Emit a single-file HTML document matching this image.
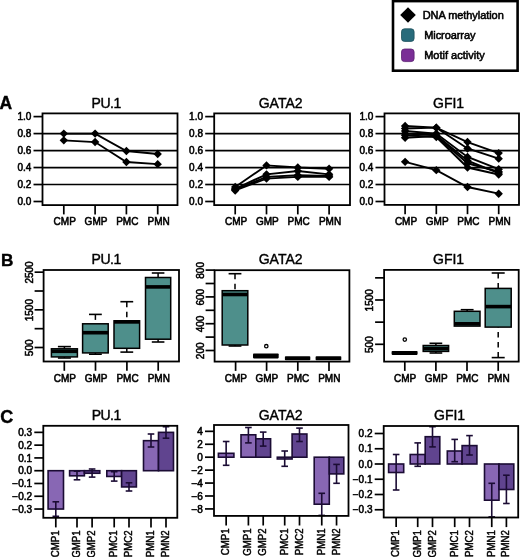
<!DOCTYPE html>
<html><head><meta charset="utf-8"><style>
html,body{margin:0;padding:0;background:#fff;}
body{width:520px;height:557px;overflow:hidden;}
svg{display:block;font-family:"Liberation Sans", sans-serif;will-change:transform;}
</style></head><body>
<svg width="520" height="557" viewBox="0 0 520 557">
<rect width="520" height="557" fill="#fff"/>
<rect x="393" y="1.1" width="124.6" height="69.6" fill="none" stroke="#000" stroke-width="2.6"/>
<path d="M408 7.2 L415.8 15 L408 22.8 L400.2 15 Z" fill="#000"/>
<rect x="401.5" y="28.8" width="12.6" height="12.6" rx="3" fill="#286b7b" stroke="#1d4f5b" stroke-width="0.8"/>
<rect x="401.5" y="49" width="12.6" height="12.6" rx="3" fill="#7a2e96" stroke="#5a1f72" stroke-width="0.8"/>
<text transform="translate(422.7 18.9)" font-size="11" text-anchor="start" font-weight="normal" stroke="#000" stroke-width="0.55" letter-spacing="-0.06">DNA methylation</text>
<text transform="translate(424.2 38.9)" font-size="11" text-anchor="start" font-weight="normal" stroke="#000" stroke-width="0.55" letter-spacing="-0.08">Microarray</text>
<text transform="translate(424.2 59.2)" font-size="11" text-anchor="start" font-weight="normal" stroke="#000" stroke-width="0.55">Motif activity</text>
<text transform="translate(-0.6 109.4)" font-size="17.5" text-anchor="start" font-weight="bold" stroke="#000" stroke-width="0.4">A</text>
<text transform="translate(1.0 265.8)" font-size="17.2" text-anchor="start" font-weight="bold" stroke="#000" stroke-width="0.4">B</text>
<text transform="translate(0.3 422.8)" font-size="18" text-anchor="start" font-weight="bold" stroke="#000" stroke-width="0.4">C</text>
<text transform="translate(106.1 107.9)" font-size="14" text-anchor="middle" font-weight="normal" stroke="#000" stroke-width="0.4" letter-spacing="-0.5">PU.1</text>
<line x1="42.5" y1="184.52" x2="177.5" y2="184.52" stroke="#000" stroke-width="1.7"/>
<line x1="42.5" y1="167.54" x2="177.5" y2="167.54" stroke="#000" stroke-width="1.7"/>
<line x1="42.5" y1="150.56" x2="177.5" y2="150.56" stroke="#000" stroke-width="1.7"/>
<line x1="42.5" y1="133.57999999999998" x2="177.5" y2="133.57999999999998" stroke="#000" stroke-width="1.7"/>
<rect x="42.5" y="113.4" width="135.0" height="91.69999999999999" fill="none" stroke="#000" stroke-width="1.8"/>
<line x1="33.5" y1="201.5" x2="42.5" y2="201.5" stroke="#000" stroke-width="1.7"/>
<text transform="translate(31.3 205.1)" font-size="10" text-anchor="end" font-weight="normal" stroke="#000" stroke-width="0.55">0.0</text>
<line x1="33.5" y1="184.52" x2="42.5" y2="184.52" stroke="#000" stroke-width="1.7"/>
<text transform="translate(31.3 188.12)" font-size="10" text-anchor="end" font-weight="normal" stroke="#000" stroke-width="0.55">0.2</text>
<line x1="33.5" y1="167.54" x2="42.5" y2="167.54" stroke="#000" stroke-width="1.7"/>
<text transform="translate(31.3 171.14)" font-size="10" text-anchor="end" font-weight="normal" stroke="#000" stroke-width="0.55">0.4</text>
<line x1="33.5" y1="150.56" x2="42.5" y2="150.56" stroke="#000" stroke-width="1.7"/>
<text transform="translate(31.3 154.16)" font-size="10" text-anchor="end" font-weight="normal" stroke="#000" stroke-width="0.55">0.6</text>
<line x1="33.5" y1="133.57999999999998" x2="42.5" y2="133.57999999999998" stroke="#000" stroke-width="1.7"/>
<text transform="translate(31.3 137.17999999999998)" font-size="10" text-anchor="end" font-weight="normal" stroke="#000" stroke-width="0.55">0.8</text>
<line x1="33.5" y1="116.6" x2="42.5" y2="116.6" stroke="#000" stroke-width="1.7"/>
<text transform="translate(31.3 120.19999999999999)" font-size="10" text-anchor="end" font-weight="normal" stroke="#000" stroke-width="0.55">1.0</text>
<line x1="63.8" y1="205.1" x2="63.8" y2="214.4" stroke="#000" stroke-width="1.7"/>
<text transform="translate(64.7 224.7)" font-size="10" text-anchor="middle" font-weight="normal" stroke="#000" stroke-width="0.55">CMP</text>
<line x1="95.1" y1="205.1" x2="95.1" y2="214.4" stroke="#000" stroke-width="1.7"/>
<text transform="translate(96.0 224.7)" font-size="10" text-anchor="middle" font-weight="normal" stroke="#000" stroke-width="0.55">GMP</text>
<line x1="126.4" y1="205.1" x2="126.4" y2="214.4" stroke="#000" stroke-width="1.7"/>
<text transform="translate(127.30000000000001 224.7)" font-size="10" text-anchor="middle" font-weight="normal" stroke="#000" stroke-width="0.55">PMC</text>
<line x1="157.7" y1="205.1" x2="157.7" y2="214.4" stroke="#000" stroke-width="1.7"/>
<text transform="translate(158.6 224.7)" font-size="10" text-anchor="middle" font-weight="normal" stroke="#000" stroke-width="0.55">PMN</text>
<polyline points="63.8,133.58 95.1,133.58 126.4,150.98 157.7,153.96" fill="none" stroke="#000" stroke-width="1.9"/>
<path d="M63.8 129.38 L68.0 133.58 L63.8 137.78 L59.599999999999994 133.58 Z" fill="#000"/>
<path d="M95.1 129.38 L99.3 133.58 L95.1 137.78 L90.89999999999999 133.58 Z" fill="#000"/>
<path d="M126.4 146.78 L130.6 150.98 L126.4 155.18 L122.2 150.98 Z" fill="#000"/>
<path d="M157.7 149.76 L161.89999999999998 153.96 L157.7 158.16 L153.5 153.96 Z" fill="#000"/>
<polyline points="63.8,140.37 95.1,142.07 126.4,162.02 157.7,164.14" fill="none" stroke="#000" stroke-width="1.9"/>
<path d="M63.8 136.17 L68.0 140.37 L63.8 144.57 L59.599999999999994 140.37 Z" fill="#000"/>
<path d="M95.1 137.87 L99.3 142.07 L95.1 146.27 L90.89999999999999 142.07 Z" fill="#000"/>
<path d="M126.4 157.82 L130.6 162.02 L126.4 166.22 L122.2 162.02 Z" fill="#000"/>
<path d="M157.7 159.94 L161.89999999999998 164.14 L157.7 168.34 L153.5 164.14 Z" fill="#000"/>
<text transform="translate(280.6 107.9)" font-size="14" text-anchor="middle" font-weight="normal" stroke="#000" stroke-width="0.4">GATA2</text>
<line x1="214.2" y1="184.52" x2="350" y2="184.52" stroke="#000" stroke-width="1.7"/>
<line x1="214.2" y1="167.54" x2="350" y2="167.54" stroke="#000" stroke-width="1.7"/>
<line x1="214.2" y1="150.56" x2="350" y2="150.56" stroke="#000" stroke-width="1.7"/>
<line x1="214.2" y1="133.57999999999998" x2="350" y2="133.57999999999998" stroke="#000" stroke-width="1.7"/>
<rect x="214.2" y="113.4" width="135.8" height="91.69999999999999" fill="none" stroke="#000" stroke-width="1.8"/>
<line x1="205.2" y1="201.5" x2="214.2" y2="201.5" stroke="#000" stroke-width="1.7"/>
<text transform="translate(203.0 205.1)" font-size="10" text-anchor="end" font-weight="normal" stroke="#000" stroke-width="0.55">0.0</text>
<line x1="205.2" y1="184.52" x2="214.2" y2="184.52" stroke="#000" stroke-width="1.7"/>
<text transform="translate(203.0 188.12)" font-size="10" text-anchor="end" font-weight="normal" stroke="#000" stroke-width="0.55">0.2</text>
<line x1="205.2" y1="167.54" x2="214.2" y2="167.54" stroke="#000" stroke-width="1.7"/>
<text transform="translate(203.0 171.14)" font-size="10" text-anchor="end" font-weight="normal" stroke="#000" stroke-width="0.55">0.4</text>
<line x1="205.2" y1="150.56" x2="214.2" y2="150.56" stroke="#000" stroke-width="1.7"/>
<text transform="translate(203.0 154.16)" font-size="10" text-anchor="end" font-weight="normal" stroke="#000" stroke-width="0.55">0.6</text>
<line x1="205.2" y1="133.57999999999998" x2="214.2" y2="133.57999999999998" stroke="#000" stroke-width="1.7"/>
<text transform="translate(203.0 137.17999999999998)" font-size="10" text-anchor="end" font-weight="normal" stroke="#000" stroke-width="0.55">0.8</text>
<line x1="205.2" y1="116.6" x2="214.2" y2="116.6" stroke="#000" stroke-width="1.7"/>
<text transform="translate(203.0 120.19999999999999)" font-size="10" text-anchor="end" font-weight="normal" stroke="#000" stroke-width="0.55">1.0</text>
<line x1="235.2" y1="205.1" x2="235.2" y2="214.4" stroke="#000" stroke-width="1.7"/>
<text transform="translate(236.1 224.7)" font-size="10" text-anchor="middle" font-weight="normal" stroke="#000" stroke-width="0.55">CMP</text>
<line x1="266.5" y1="205.1" x2="266.5" y2="214.4" stroke="#000" stroke-width="1.7"/>
<text transform="translate(267.4 224.7)" font-size="10" text-anchor="middle" font-weight="normal" stroke="#000" stroke-width="0.55">GMP</text>
<line x1="297.8" y1="205.1" x2="297.8" y2="214.4" stroke="#000" stroke-width="1.7"/>
<text transform="translate(298.7 224.7)" font-size="10" text-anchor="middle" font-weight="normal" stroke="#000" stroke-width="0.55">PMC</text>
<line x1="329.1" y1="205.1" x2="329.1" y2="214.4" stroke="#000" stroke-width="1.7"/>
<text transform="translate(330.0 224.7)" font-size="10" text-anchor="middle" font-weight="normal" stroke="#000" stroke-width="0.55">PMN</text>
<polyline points="235.2,187.07 266.5,165.42 297.8,167.54 329.1,168.81" fill="none" stroke="#000" stroke-width="1.9"/>
<path d="M235.2 182.87 L239.39999999999998 187.07 L235.2 191.27 L231.0 187.07 Z" fill="#000"/>
<path d="M266.5 161.22 L270.7 165.42 L266.5 169.62 L262.3 165.42 Z" fill="#000"/>
<path d="M297.8 163.34 L302.0 167.54 L297.8 171.74 L293.6 167.54 Z" fill="#000"/>
<path d="M329.1 164.61 L333.3 168.81 L329.1 173.01 L324.90000000000003 168.81 Z" fill="#000"/>
<polyline points="235.2,188.76 266.5,174.33 297.8,170.94 329.1,174.33" fill="none" stroke="#000" stroke-width="1.9"/>
<path d="M235.2 184.56 L239.39999999999998 188.76 L235.2 192.96 L231.0 188.76 Z" fill="#000"/>
<path d="M266.5 170.13 L270.7 174.33 L266.5 178.53 L262.3 174.33 Z" fill="#000"/>
<path d="M297.8 166.74 L302.0 170.94 L297.8 175.14 L293.6 170.94 Z" fill="#000"/>
<path d="M329.1 170.13 L333.3 174.33 L329.1 178.53 L324.90000000000003 174.33 Z" fill="#000"/>
<polyline points="235.2,189.61 266.5,176.88 297.8,175.18 329.1,176.03" fill="none" stroke="#000" stroke-width="1.9"/>
<path d="M235.2 185.41 L239.39999999999998 189.61 L235.2 193.81 L231.0 189.61 Z" fill="#000"/>
<path d="M266.5 172.68 L270.7 176.88 L266.5 181.08 L262.3 176.88 Z" fill="#000"/>
<path d="M297.8 170.98 L302.0 175.18 L297.8 179.38 L293.6 175.18 Z" fill="#000"/>
<path d="M329.1 171.83 L333.3 176.03 L329.1 180.23 L324.90000000000003 176.03 Z" fill="#000"/>
<polyline points="235.2,190.46 266.5,178.58 297.8,176.88 329.1,176.88" fill="none" stroke="#000" stroke-width="1.9"/>
<path d="M235.2 186.26 L239.39999999999998 190.46 L235.2 194.66 L231.0 190.46 Z" fill="#000"/>
<path d="M266.5 174.38 L270.7 178.58 L266.5 182.78 L262.3 178.58 Z" fill="#000"/>
<path d="M297.8 172.68 L302.0 176.88 L297.8 181.08 L293.6 176.88 Z" fill="#000"/>
<path d="M329.1 172.68 L333.3 176.88 L329.1 181.08 L324.90000000000003 176.88 Z" fill="#000"/>
<text transform="translate(448.6 107.9)" font-size="14" text-anchor="middle" font-weight="normal" stroke="#000" stroke-width="0.4">GFI1</text>
<line x1="384.5" y1="184.52" x2="519" y2="184.52" stroke="#000" stroke-width="1.7"/>
<line x1="384.5" y1="167.54" x2="519" y2="167.54" stroke="#000" stroke-width="1.7"/>
<line x1="384.5" y1="150.56" x2="519" y2="150.56" stroke="#000" stroke-width="1.7"/>
<line x1="384.5" y1="133.57999999999998" x2="519" y2="133.57999999999998" stroke="#000" stroke-width="1.7"/>
<rect x="384.5" y="113.4" width="134.5" height="91.5" fill="none" stroke="#000" stroke-width="1.8"/>
<line x1="375.5" y1="201.5" x2="384.5" y2="201.5" stroke="#000" stroke-width="1.7"/>
<text transform="translate(373.3 205.1)" font-size="10" text-anchor="end" font-weight="normal" stroke="#000" stroke-width="0.55">0.0</text>
<line x1="375.5" y1="184.52" x2="384.5" y2="184.52" stroke="#000" stroke-width="1.7"/>
<text transform="translate(373.3 188.12)" font-size="10" text-anchor="end" font-weight="normal" stroke="#000" stroke-width="0.55">0.2</text>
<line x1="375.5" y1="167.54" x2="384.5" y2="167.54" stroke="#000" stroke-width="1.7"/>
<text transform="translate(373.3 171.14)" font-size="10" text-anchor="end" font-weight="normal" stroke="#000" stroke-width="0.55">0.4</text>
<line x1="375.5" y1="150.56" x2="384.5" y2="150.56" stroke="#000" stroke-width="1.7"/>
<text transform="translate(373.3 154.16)" font-size="10" text-anchor="end" font-weight="normal" stroke="#000" stroke-width="0.55">0.6</text>
<line x1="375.5" y1="133.57999999999998" x2="384.5" y2="133.57999999999998" stroke="#000" stroke-width="1.7"/>
<text transform="translate(373.3 137.17999999999998)" font-size="10" text-anchor="end" font-weight="normal" stroke="#000" stroke-width="0.55">0.8</text>
<line x1="375.5" y1="116.6" x2="384.5" y2="116.6" stroke="#000" stroke-width="1.7"/>
<text transform="translate(373.3 120.19999999999999)" font-size="10" text-anchor="end" font-weight="normal" stroke="#000" stroke-width="0.55">1.0</text>
<line x1="405.1" y1="204.9" x2="405.1" y2="214.20000000000002" stroke="#000" stroke-width="1.7"/>
<text transform="translate(406.0 224.5)" font-size="10" text-anchor="middle" font-weight="normal" stroke="#000" stroke-width="0.55">CMP</text>
<line x1="436.3" y1="204.9" x2="436.3" y2="214.20000000000002" stroke="#000" stroke-width="1.7"/>
<text transform="translate(437.2 224.5)" font-size="10" text-anchor="middle" font-weight="normal" stroke="#000" stroke-width="0.55">GMP</text>
<line x1="467.5" y1="204.9" x2="467.5" y2="214.20000000000002" stroke="#000" stroke-width="1.7"/>
<text transform="translate(468.4 224.5)" font-size="10" text-anchor="middle" font-weight="normal" stroke="#000" stroke-width="0.55">PMC</text>
<line x1="498.7" y1="204.9" x2="498.7" y2="214.20000000000002" stroke="#000" stroke-width="1.7"/>
<text transform="translate(499.59999999999997 224.5)" font-size="10" text-anchor="middle" font-weight="normal" stroke="#000" stroke-width="0.55">PMN</text>
<polyline points="405.1,125.94 436.3,127.64 467.5,142.07 498.7,153.11" fill="none" stroke="#000" stroke-width="1.9"/>
<path d="M405.1 121.74 L409.3 125.94 L405.1 130.14 L400.90000000000003 125.94 Z" fill="#000"/>
<path d="M436.3 123.44 L440.5 127.64 L436.3 131.84 L432.1 127.64 Z" fill="#000"/>
<path d="M467.5 137.87 L471.7 142.07 L467.5 146.27 L463.3 142.07 Z" fill="#000"/>
<path d="M498.7 148.91 L502.9 153.11 L498.7 157.31 L494.5 153.11 Z" fill="#000"/>
<polyline points="405.1,128.49 436.3,127.64 467.5,148.44 498.7,158.63" fill="none" stroke="#000" stroke-width="1.9"/>
<path d="M405.1 124.29 L409.3 128.49 L405.1 132.69 L400.90000000000003 128.49 Z" fill="#000"/>
<path d="M436.3 123.44 L440.5 127.64 L436.3 131.84 L432.1 127.64 Z" fill="#000"/>
<path d="M467.5 144.24 L471.7 148.44 L467.5 152.64 L463.3 148.44 Z" fill="#000"/>
<path d="M498.7 154.43 L502.9 158.63 L498.7 162.83 L494.5 158.63 Z" fill="#000"/>
<polyline points="405.1,131.03 436.3,133.58 467.5,156.93 498.7,169.24" fill="none" stroke="#000" stroke-width="1.9"/>
<path d="M405.1 126.83 L409.3 131.03 L405.1 135.23 L400.90000000000003 131.03 Z" fill="#000"/>
<path d="M436.3 129.38 L440.5 133.58 L436.3 137.78 L432.1 133.58 Z" fill="#000"/>
<path d="M467.5 152.73 L471.7 156.93 L467.5 161.13 L463.3 156.93 Z" fill="#000"/>
<path d="M498.7 165.04 L502.9 169.24 L498.7 173.44 L494.5 169.24 Z" fill="#000"/>
<polyline points="405.1,133.58 436.3,135.28 467.5,160.75 498.7,173.06" fill="none" stroke="#000" stroke-width="1.9"/>
<path d="M405.1 129.38 L409.3 133.58 L405.1 137.78 L400.90000000000003 133.58 Z" fill="#000"/>
<path d="M436.3 131.08 L440.5 135.28 L436.3 139.48 L432.1 135.28 Z" fill="#000"/>
<path d="M467.5 156.55 L471.7 160.75 L467.5 164.95 L463.3 160.75 Z" fill="#000"/>
<path d="M498.7 168.86 L502.9 173.06 L498.7 177.26 L494.5 173.06 Z" fill="#000"/>
<polyline points="405.1,135.28 436.3,136.98 467.5,167.54 498.7,174.50" fill="none" stroke="#000" stroke-width="1.9"/>
<path d="M405.1 131.08 L409.3 135.28 L405.1 139.48 L400.90000000000003 135.28 Z" fill="#000"/>
<path d="M436.3 132.78 L440.5 136.98 L436.3 141.18 L432.1 136.98 Z" fill="#000"/>
<path d="M467.5 163.34 L471.7 167.54 L467.5 171.74 L463.3 167.54 Z" fill="#000"/>
<path d="M498.7 170.30 L502.9 174.50 L498.7 178.70 L494.5 174.50 Z" fill="#000"/>
<polyline points="405.1,137.82 436.3,136.13 467.5,163.29 498.7,171.78" fill="none" stroke="#000" stroke-width="1.9"/>
<path d="M405.1 133.62 L409.3 137.82 L405.1 142.02 L400.90000000000003 137.82 Z" fill="#000"/>
<path d="M436.3 131.93 L440.5 136.13 L436.3 140.33 L432.1 136.13 Z" fill="#000"/>
<path d="M467.5 159.09 L471.7 163.29 L467.5 167.49 L463.3 163.29 Z" fill="#000"/>
<path d="M498.7 167.59 L502.9 171.78 L498.7 175.98 L494.5 171.78 Z" fill="#000"/>
<polyline points="405.1,161.85 436.3,170.17 467.5,186.98 498.7,193.69" fill="none" stroke="#000" stroke-width="1.9"/>
<path d="M405.1 157.65 L409.3 161.85 L405.1 166.05 L400.90000000000003 161.85 Z" fill="#000"/>
<path d="M436.3 165.97 L440.5 170.17 L436.3 174.37 L432.1 170.17 Z" fill="#000"/>
<path d="M467.5 182.78 L471.7 186.98 L467.5 191.18 L463.3 186.98 Z" fill="#000"/>
<path d="M498.7 189.49 L502.9 193.69 L498.7 197.89 L494.5 193.69 Z" fill="#000"/>
<text transform="translate(106.1 264.0)" font-size="14" text-anchor="middle" font-weight="normal" stroke="#000" stroke-width="0.4" letter-spacing="-0.5">PU.1</text>
<rect x="43.6" y="270.0" width="135.4" height="91.5" fill="none" stroke="#000" stroke-width="1.8"/>
<line x1="34.6" y1="347.5" x2="43.6" y2="347.5" stroke="#000" stroke-width="1.7"/>
<text transform="translate(32.699999999999996 347.8) rotate(-90)" font-size="10" text-anchor="middle" font-weight="normal" stroke="#000" stroke-width="0.55">500</text>
<line x1="34.6" y1="328.67" x2="43.6" y2="328.67" stroke="#000" stroke-width="1.7"/>
<line x1="34.6" y1="309.84000000000003" x2="43.6" y2="309.84000000000003" stroke="#000" stroke-width="1.7"/>
<text transform="translate(32.699999999999996 310.14000000000004) rotate(-90)" font-size="10" text-anchor="middle" font-weight="normal" stroke="#000" stroke-width="0.55">1500</text>
<line x1="34.6" y1="291.01" x2="43.6" y2="291.01" stroke="#000" stroke-width="1.7"/>
<line x1="34.6" y1="272.18" x2="43.6" y2="272.18" stroke="#000" stroke-width="1.7"/>
<text transform="translate(32.699999999999996 272.48) rotate(-90)" font-size="10" text-anchor="middle" font-weight="normal" stroke="#000" stroke-width="0.55">2500</text>
<line x1="64.3" y1="361.5" x2="64.3" y2="370.8" stroke="#000" stroke-width="1.7"/>
<text transform="translate(64.89999999999999 381.7)" font-size="10" text-anchor="middle" font-weight="normal" stroke="#000" stroke-width="0.55">CMP</text>
<line x1="95.5" y1="361.5" x2="95.5" y2="370.8" stroke="#000" stroke-width="1.7"/>
<text transform="translate(96.1 381.7)" font-size="10" text-anchor="middle" font-weight="normal" stroke="#000" stroke-width="0.55">GMP</text>
<line x1="126.9" y1="361.5" x2="126.9" y2="370.8" stroke="#000" stroke-width="1.7"/>
<text transform="translate(127.5 381.7)" font-size="10" text-anchor="middle" font-weight="normal" stroke="#000" stroke-width="0.55">PMC</text>
<line x1="158.2" y1="361.5" x2="158.2" y2="370.8" stroke="#000" stroke-width="1.7"/>
<text transform="translate(158.79999999999998 381.7)" font-size="10" text-anchor="middle" font-weight="normal" stroke="#000" stroke-width="0.55">PMN</text>
<line x1="64.4" y1="346.6" x2="64.4" y2="348.8" stroke="#000" stroke-width="1.5" stroke-dasharray="5.5,4.5"/>
<line x1="57.900000000000006" y1="346.6" x2="70.9" y2="346.6" stroke="#000" stroke-width="1.6"/>
<line x1="64.4" y1="358.0" x2="64.4" y2="356.9" stroke="#000" stroke-width="1.5" stroke-dasharray="5.5,4.5"/>
<line x1="57.900000000000006" y1="358.0" x2="70.9" y2="358.0" stroke="#000" stroke-width="1.6"/>
<rect x="51.4" y="348.8" width="26.00" height="8.10" fill="#4e8f8b" stroke="#000" stroke-width="1.5"/>
<line x1="51.4" y1="351.3" x2="77.4" y2="351.3" stroke="#000" stroke-width="3.6"/>
<line x1="95.4" y1="314.4" x2="95.4" y2="323.8" stroke="#000" stroke-width="1.5" stroke-dasharray="5.5,4.5"/>
<line x1="89.0" y1="314.4" x2="101.80000000000001" y2="314.4" stroke="#000" stroke-width="1.6"/>
<line x1="95.4" y1="354.2" x2="95.4" y2="352.9" stroke="#000" stroke-width="1.5" stroke-dasharray="5.5,4.5"/>
<line x1="89.0" y1="354.2" x2="101.80000000000001" y2="354.2" stroke="#000" stroke-width="1.6"/>
<rect x="82.6" y="323.8" width="25.60" height="29.10" fill="#4e8f8b" stroke="#000" stroke-width="1.5"/>
<line x1="82.6" y1="332.7" x2="108.2" y2="332.7" stroke="#000" stroke-width="3.6"/>
<line x1="126.8" y1="301.7" x2="126.8" y2="320.8" stroke="#000" stroke-width="1.5" stroke-dasharray="5.5,4.5"/>
<line x1="120.4" y1="301.7" x2="133.2" y2="301.7" stroke="#000" stroke-width="1.6"/>
<line x1="126.8" y1="352.1" x2="126.8" y2="348.3" stroke="#000" stroke-width="1.5" stroke-dasharray="5.5,4.5"/>
<line x1="120.4" y1="352.1" x2="133.2" y2="352.1" stroke="#000" stroke-width="1.6"/>
<rect x="114.0" y="320.8" width="25.60" height="27.50" fill="#4e8f8b" stroke="#000" stroke-width="1.5"/>
<line x1="114.0" y1="321.9" x2="139.6" y2="321.9" stroke="#000" stroke-width="3.6"/>
<line x1="158.1" y1="273.0" x2="158.1" y2="277.5" stroke="#000" stroke-width="1.5" stroke-dasharray="5.5,4.5"/>
<line x1="151.8" y1="273.0" x2="164.39999999999998" y2="273.0" stroke="#000" stroke-width="1.6"/>
<line x1="158.1" y1="342.0" x2="158.1" y2="339.2" stroke="#000" stroke-width="1.5" stroke-dasharray="5.5,4.5"/>
<line x1="151.8" y1="342.0" x2="164.39999999999998" y2="342.0" stroke="#000" stroke-width="1.6"/>
<rect x="145.5" y="277.5" width="25.20" height="61.70" fill="#4e8f8b" stroke="#000" stroke-width="1.5"/>
<line x1="145.5" y1="286.9" x2="170.7" y2="286.9" stroke="#000" stroke-width="3.6"/>
<text transform="translate(280.6 264.3)" font-size="14" text-anchor="middle" font-weight="normal" stroke="#000" stroke-width="0.4">GATA2</text>
<rect x="214.6" y="270.2" width="134.79999999999998" height="91.40000000000003" fill="none" stroke="#000" stroke-width="1.8"/>
<line x1="205.6" y1="350.5" x2="214.6" y2="350.5" stroke="#000" stroke-width="1.7"/>
<text transform="translate(203.70000000000002 350.8) rotate(-90)" font-size="10" text-anchor="middle" font-weight="normal" stroke="#000" stroke-width="0.55">200</text>
<line x1="205.6" y1="337.1" x2="214.6" y2="337.1" stroke="#000" stroke-width="1.7"/>
<line x1="205.6" y1="323.70000000000005" x2="214.6" y2="323.70000000000005" stroke="#000" stroke-width="1.7"/>
<text transform="translate(203.70000000000002 324.00000000000006) rotate(-90)" font-size="10" text-anchor="middle" font-weight="normal" stroke="#000" stroke-width="0.55">400</text>
<line x1="205.6" y1="310.3" x2="214.6" y2="310.3" stroke="#000" stroke-width="1.7"/>
<line x1="205.6" y1="296.90000000000003" x2="214.6" y2="296.90000000000003" stroke="#000" stroke-width="1.7"/>
<text transform="translate(203.70000000000002 297.20000000000005) rotate(-90)" font-size="10" text-anchor="middle" font-weight="normal" stroke="#000" stroke-width="0.55">600</text>
<line x1="205.6" y1="283.5" x2="214.6" y2="283.5" stroke="#000" stroke-width="1.7"/>
<line x1="205.6" y1="270.1" x2="214.6" y2="270.1" stroke="#000" stroke-width="1.7"/>
<text transform="translate(203.70000000000002 270.40000000000003) rotate(-90)" font-size="10" text-anchor="middle" font-weight="normal" stroke="#000" stroke-width="0.55">800</text>
<line x1="235.6" y1="361.6" x2="235.6" y2="370.90000000000003" stroke="#000" stroke-width="1.7"/>
<text transform="translate(235.9 381.8)" font-size="10" text-anchor="middle" font-weight="normal" stroke="#000" stroke-width="0.55">CMP</text>
<line x1="266.6" y1="361.6" x2="266.6" y2="370.90000000000003" stroke="#000" stroke-width="1.7"/>
<text transform="translate(266.90000000000003 381.8)" font-size="10" text-anchor="middle" font-weight="normal" stroke="#000" stroke-width="0.55">GMP</text>
<line x1="297.8" y1="361.6" x2="297.8" y2="370.90000000000003" stroke="#000" stroke-width="1.7"/>
<text transform="translate(298.1 381.8)" font-size="10" text-anchor="middle" font-weight="normal" stroke="#000" stroke-width="0.55">PMC</text>
<line x1="329.0" y1="361.6" x2="329.0" y2="370.90000000000003" stroke="#000" stroke-width="1.7"/>
<text transform="translate(329.3 381.8)" font-size="10" text-anchor="middle" font-weight="normal" stroke="#000" stroke-width="0.55">PMN</text>
<line x1="235.0" y1="273.7" x2="235.0" y2="290.7" stroke="#000" stroke-width="1.5" stroke-dasharray="5.5,4.5"/>
<line x1="228.6" y1="273.7" x2="241.4" y2="273.7" stroke="#000" stroke-width="1.6"/>
<line x1="235.0" y1="346.0" x2="235.0" y2="345.0" stroke="#000" stroke-width="1.5" stroke-dasharray="5.5,4.5"/>
<line x1="228.6" y1="346.0" x2="241.4" y2="346.0" stroke="#000" stroke-width="1.6"/>
<rect x="222.2" y="290.7" width="25.60" height="54.30" fill="#4e8f8b" stroke="#000" stroke-width="1.5"/>
<line x1="222.2" y1="294.5" x2="247.8" y2="294.5" stroke="#000" stroke-width="3.6"/>
<rect x="253.0" y="353.5" width="25.70" height="4.90" fill="#000" rx="0.8"/>
<circle cx="266.3" cy="346.2" r="1.7" fill="none" stroke="#000" stroke-width="1.3"/>
<rect x="284.9" y="356.2" width="25.40" height="4.10" fill="#000" rx="0.8"/>
<rect x="315.6" y="356.2" width="25.70" height="4.10" fill="#000" rx="0.8"/>
<text transform="translate(448.6 264.3)" font-size="14" text-anchor="middle" font-weight="normal" stroke="#000" stroke-width="0.4">GFI1</text>
<rect x="384.1" y="269.9" width="134.60000000000002" height="91.70000000000005" fill="none" stroke="#000" stroke-width="1.8"/>
<line x1="375.1" y1="344.3" x2="384.1" y2="344.3" stroke="#000" stroke-width="1.7"/>
<text transform="translate(373.20000000000005 344.6) rotate(-90)" font-size="10" text-anchor="middle" font-weight="normal" stroke="#000" stroke-width="0.55">500</text>
<line x1="375.1" y1="322.15000000000003" x2="384.1" y2="322.15000000000003" stroke="#000" stroke-width="1.7"/>
<line x1="375.1" y1="300.0" x2="384.1" y2="300.0" stroke="#000" stroke-width="1.7"/>
<text transform="translate(373.20000000000005 300.3) rotate(-90)" font-size="10" text-anchor="middle" font-weight="normal" stroke="#000" stroke-width="0.55">1500</text>
<line x1="375.1" y1="277.85" x2="384.1" y2="277.85" stroke="#000" stroke-width="1.7"/>
<line x1="404.8" y1="361.6" x2="404.8" y2="370.90000000000003" stroke="#000" stroke-width="1.7"/>
<text transform="translate(405.1 382.40000000000003)" font-size="10" text-anchor="middle" font-weight="normal" stroke="#000" stroke-width="0.55">CMP</text>
<line x1="435.9" y1="361.6" x2="435.9" y2="370.90000000000003" stroke="#000" stroke-width="1.7"/>
<text transform="translate(436.2 382.40000000000003)" font-size="10" text-anchor="middle" font-weight="normal" stroke="#000" stroke-width="0.55">GMP</text>
<line x1="467.0" y1="361.6" x2="467.0" y2="370.90000000000003" stroke="#000" stroke-width="1.7"/>
<text transform="translate(467.3 382.40000000000003)" font-size="10" text-anchor="middle" font-weight="normal" stroke="#000" stroke-width="0.55">PMC</text>
<line x1="498.2" y1="361.6" x2="498.2" y2="370.90000000000003" stroke="#000" stroke-width="1.7"/>
<text transform="translate(498.5 382.40000000000003)" font-size="10" text-anchor="middle" font-weight="normal" stroke="#000" stroke-width="0.55">PMN</text>
<rect x="391.6" y="350.9" width="26.00" height="4.00" fill="#000" rx="0.8"/>
<circle cx="404.8" cy="339.6" r="1.7" fill="none" stroke="#000" stroke-width="1.3"/>
<line x1="435.9" y1="343.3" x2="435.9" y2="345.5" stroke="#000" stroke-width="1.5"/>
<line x1="429.54999999999995" y1="343.3" x2="442.25" y2="343.3" stroke="#000" stroke-width="1.6"/>
<line x1="435.9" y1="353.0" x2="435.9" y2="351.4" stroke="#000" stroke-width="1.5"/>
<line x1="429.54999999999995" y1="353.0" x2="442.25" y2="353.0" stroke="#000" stroke-width="1.6"/>
<rect x="423.2" y="345.5" width="25.40" height="5.90" fill="#4e8f8b" stroke="#000" stroke-width="1.5"/>
<line x1="423.2" y1="348.6" x2="448.6" y2="348.6" stroke="#000" stroke-width="3.6"/>
<line x1="467.15" y1="309.7" x2="467.15" y2="311.3" stroke="#000" stroke-width="1.5" stroke-dasharray="5.5,4.5"/>
<line x1="460.72499999999997" y1="309.7" x2="473.575" y2="309.7" stroke="#000" stroke-width="1.6"/>
<rect x="454.3" y="311.3" width="25.70" height="14.80" fill="#4e8f8b" stroke="#000" stroke-width="1.5"/>
<line x1="454.3" y1="323.8" x2="480.0" y2="323.8" stroke="#000" stroke-width="3.6"/>
<line x1="498.2" y1="273.0" x2="498.2" y2="288.4" stroke="#000" stroke-width="1.5" stroke-dasharray="5.5,4.5"/>
<line x1="491.7" y1="273.0" x2="504.7" y2="273.0" stroke="#000" stroke-width="1.6"/>
<line x1="498.2" y1="357.6" x2="498.2" y2="327.1" stroke="#000" stroke-width="1.5" stroke-dasharray="5.5,4.5"/>
<line x1="491.7" y1="357.6" x2="504.7" y2="357.6" stroke="#000" stroke-width="1.6"/>
<rect x="485.2" y="288.4" width="26.00" height="38.70" fill="#4e8f8b" stroke="#000" stroke-width="1.5"/>
<line x1="485.2" y1="306.6" x2="511.2" y2="306.6" stroke="#000" stroke-width="3.6"/>
<text transform="translate(106.2 420.2)" font-size="14" text-anchor="middle" font-weight="normal" stroke="#000" stroke-width="0.4" letter-spacing="-0.5">PU.1</text>
<rect x="48.1" y="470.70" width="15.40" height="38.34" fill="#8867b4" stroke="#1b0c34" stroke-width="1.6"/>
<rect x="69.6" y="470.70" width="14.80" height="5.11" fill="#8867b4" stroke="#1b0c34" stroke-width="1.6"/>
<rect x="84.4" y="470.70" width="15.40" height="2.56" fill="#60448f" stroke="#1b0c34" stroke-width="1.6"/>
<rect x="106.8" y="470.70" width="14.80" height="5.75" fill="#8867b4" stroke="#1b0c34" stroke-width="1.6"/>
<rect x="121.6" y="470.70" width="14.80" height="16.23" fill="#60448f" stroke="#1b0c34" stroke-width="1.6"/>
<rect x="143.5" y="440.67" width="15.00" height="30.03" fill="#8867b4" stroke="#1b0c34" stroke-width="1.6"/>
<rect x="158.5" y="432.36" width="15.00" height="38.34" fill="#60448f" stroke="#1b0c34" stroke-width="1.6"/>
<line x1="55.8" y1="501.8" x2="55.8" y2="516.3" stroke="#1b0c34" stroke-width="1.6"/>
<line x1="52.5" y1="501.8" x2="59.099999999999994" y2="501.8" stroke="#1b0c34" stroke-width="1.6"/>
<line x1="52.5" y1="516.3" x2="59.099999999999994" y2="516.3" stroke="#1b0c34" stroke-width="1.6"/>
<line x1="77.0" y1="471.2" x2="77.0" y2="479.8" stroke="#1b0c34" stroke-width="1.6"/>
<line x1="73.7" y1="471.2" x2="80.3" y2="471.2" stroke="#1b0c34" stroke-width="1.6"/>
<line x1="73.7" y1="479.8" x2="80.3" y2="479.8" stroke="#1b0c34" stroke-width="1.6"/>
<line x1="92.1" y1="469.0" x2="92.1" y2="477.1" stroke="#1b0c34" stroke-width="1.6"/>
<line x1="88.8" y1="469.0" x2="95.39999999999999" y2="469.0" stroke="#1b0c34" stroke-width="1.6"/>
<line x1="88.8" y1="477.1" x2="95.39999999999999" y2="477.1" stroke="#1b0c34" stroke-width="1.6"/>
<line x1="114.19999999999999" y1="471.7" x2="114.19999999999999" y2="481.1" stroke="#1b0c34" stroke-width="1.6"/>
<line x1="110.89999999999999" y1="471.7" x2="117.49999999999999" y2="471.7" stroke="#1b0c34" stroke-width="1.6"/>
<line x1="110.89999999999999" y1="481.1" x2="117.49999999999999" y2="481.1" stroke="#1b0c34" stroke-width="1.6"/>
<line x1="129.0" y1="482.8" x2="129.0" y2="491.0" stroke="#1b0c34" stroke-width="1.6"/>
<line x1="125.7" y1="482.8" x2="132.3" y2="482.8" stroke="#1b0c34" stroke-width="1.6"/>
<line x1="125.7" y1="491.0" x2="132.3" y2="491.0" stroke="#1b0c34" stroke-width="1.6"/>
<line x1="151.0" y1="434.0" x2="151.0" y2="447.0" stroke="#1b0c34" stroke-width="1.6"/>
<line x1="147.7" y1="434.0" x2="154.3" y2="434.0" stroke="#1b0c34" stroke-width="1.6"/>
<line x1="147.7" y1="447.0" x2="154.3" y2="447.0" stroke="#1b0c34" stroke-width="1.6"/>
<line x1="166.0" y1="426.7" x2="166.0" y2="438.2" stroke="#1b0c34" stroke-width="1.6"/>
<line x1="162.7" y1="426.7" x2="169.3" y2="426.7" stroke="#1b0c34" stroke-width="1.6"/>
<line x1="162.7" y1="438.2" x2="169.3" y2="438.2" stroke="#1b0c34" stroke-width="1.6"/>
<rect x="43.3" y="425.8" width="134.0" height="91.99999999999994" fill="none" stroke="#000" stroke-width="1.8"/>
<line x1="34.3" y1="509.03999999999996" x2="43.3" y2="509.03999999999996" stroke="#000" stroke-width="1.7"/>
<text transform="translate(32.099999999999994 512.64)" font-size="10" text-anchor="end" font-weight="normal" stroke="#000" stroke-width="0.55">&#8722;0.3</text>
<line x1="34.3" y1="496.26" x2="43.3" y2="496.26" stroke="#000" stroke-width="1.7"/>
<text transform="translate(32.099999999999994 499.86)" font-size="10" text-anchor="end" font-weight="normal" stroke="#000" stroke-width="0.55">&#8722;0.2</text>
<line x1="34.3" y1="483.48" x2="43.3" y2="483.48" stroke="#000" stroke-width="1.7"/>
<text transform="translate(32.099999999999994 487.08000000000004)" font-size="10" text-anchor="end" font-weight="normal" stroke="#000" stroke-width="0.55">&#8722;0.1</text>
<line x1="34.3" y1="470.7" x2="43.3" y2="470.7" stroke="#000" stroke-width="1.7"/>
<text transform="translate(32.099999999999994 474.3)" font-size="10" text-anchor="end" font-weight="normal" stroke="#000" stroke-width="0.55">0.0</text>
<line x1="34.3" y1="457.91999999999996" x2="43.3" y2="457.91999999999996" stroke="#000" stroke-width="1.7"/>
<text transform="translate(32.099999999999994 461.52)" font-size="10" text-anchor="end" font-weight="normal" stroke="#000" stroke-width="0.55">0.1</text>
<line x1="34.3" y1="445.14" x2="43.3" y2="445.14" stroke="#000" stroke-width="1.7"/>
<text transform="translate(32.099999999999994 448.74)" font-size="10" text-anchor="end" font-weight="normal" stroke="#000" stroke-width="0.55">0.2</text>
<line x1="34.3" y1="432.36" x2="43.3" y2="432.36" stroke="#000" stroke-width="1.7"/>
<text transform="translate(32.099999999999994 435.96000000000004)" font-size="10" text-anchor="end" font-weight="normal" stroke="#000" stroke-width="0.55">0.3</text>
<line x1="55.8" y1="517.8" x2="55.8" y2="527.4" stroke="#000" stroke-width="1.7"/>
<text transform="translate(58.8 530.4) rotate(-90) scale(0.965 1.0)" font-size="10" text-anchor="end" font-weight="normal" stroke="#000" stroke-width="0.45">CMP1</text>
<line x1="77.0" y1="517.8" x2="77.0" y2="527.4" stroke="#000" stroke-width="1.7"/>
<text transform="translate(80.0 530.4) rotate(-90) scale(0.965 1.0)" font-size="10" text-anchor="end" font-weight="normal" stroke="#000" stroke-width="0.45">GMP1</text>
<line x1="92.1" y1="517.8" x2="92.1" y2="527.4" stroke="#000" stroke-width="1.7"/>
<text transform="translate(95.1 530.4) rotate(-90) scale(0.965 1.0)" font-size="10" text-anchor="end" font-weight="normal" stroke="#000" stroke-width="0.45">GMP2</text>
<line x1="114.19999999999999" y1="517.8" x2="114.19999999999999" y2="527.4" stroke="#000" stroke-width="1.7"/>
<text transform="translate(117.19999999999999 530.4) rotate(-90) scale(0.965 1.0)" font-size="10" text-anchor="end" font-weight="normal" stroke="#000" stroke-width="0.45">PMC1</text>
<line x1="129.0" y1="517.8" x2="129.0" y2="527.4" stroke="#000" stroke-width="1.7"/>
<text transform="translate(132.0 530.4) rotate(-90) scale(0.965 1.0)" font-size="10" text-anchor="end" font-weight="normal" stroke="#000" stroke-width="0.45">PMC2</text>
<line x1="151.0" y1="517.8" x2="151.0" y2="527.4" stroke="#000" stroke-width="1.7"/>
<text transform="translate(154.0 530.4) rotate(-90) scale(0.965 1.0)" font-size="10" text-anchor="end" font-weight="normal" stroke="#000" stroke-width="0.45">PMN1</text>
<line x1="166.0" y1="517.8" x2="166.0" y2="527.4" stroke="#000" stroke-width="1.7"/>
<text transform="translate(169.0 530.4) rotate(-90) scale(0.965 1.0)" font-size="10" text-anchor="end" font-weight="normal" stroke="#000" stroke-width="0.45">PMN2</text>
<text transform="translate(280.6 419.7)" font-size="14" text-anchor="middle" font-weight="normal" stroke="#000" stroke-width="0.4">GATA2</text>
<rect x="218.4" y="453.30" width="15.50" height="3.90" fill="#8867b4" stroke="#1b0c34" stroke-width="1.6"/>
<rect x="241.0" y="434.80" width="14.80" height="22.40" fill="#8867b4" stroke="#1b0c34" stroke-width="1.6"/>
<rect x="255.8" y="438.80" width="14.80" height="18.40" fill="#60448f" stroke="#1b0c34" stroke-width="1.6"/>
<rect x="277.3" y="457.20" width="14.80" height="1.80" fill="#8867b4" stroke="#1b0c34" stroke-width="1.6"/>
<rect x="292.1" y="434.00" width="14.80" height="23.20" fill="#60448f" stroke="#1b0c34" stroke-width="1.6"/>
<rect x="314.2" y="457.20" width="15.10" height="47.00" fill="#8867b4" stroke="#1b0c34" stroke-width="1.6"/>
<rect x="329.3" y="457.20" width="14.50" height="16.70" fill="#60448f" stroke="#1b0c34" stroke-width="1.6"/>
<line x1="226.15" y1="441.5" x2="226.15" y2="465.3" stroke="#1b0c34" stroke-width="1.6"/>
<line x1="222.85" y1="441.5" x2="229.45000000000002" y2="441.5" stroke="#1b0c34" stroke-width="1.6"/>
<line x1="222.85" y1="465.3" x2="229.45000000000002" y2="465.3" stroke="#1b0c34" stroke-width="1.6"/>
<line x1="248.4" y1="427.5" x2="248.4" y2="442.9" stroke="#1b0c34" stroke-width="1.6"/>
<line x1="245.1" y1="427.5" x2="251.70000000000002" y2="427.5" stroke="#1b0c34" stroke-width="1.6"/>
<line x1="245.1" y1="442.9" x2="251.70000000000002" y2="442.9" stroke="#1b0c34" stroke-width="1.6"/>
<line x1="263.20000000000005" y1="432.1" x2="263.20000000000005" y2="446.1" stroke="#1b0c34" stroke-width="1.6"/>
<line x1="259.90000000000003" y1="432.1" x2="266.50000000000006" y2="432.1" stroke="#1b0c34" stroke-width="1.6"/>
<line x1="259.90000000000003" y1="446.1" x2="266.50000000000006" y2="446.1" stroke="#1b0c34" stroke-width="1.6"/>
<line x1="284.70000000000005" y1="451.0" x2="284.70000000000005" y2="466.3" stroke="#1b0c34" stroke-width="1.6"/>
<line x1="281.40000000000003" y1="451.0" x2="288.00000000000006" y2="451.0" stroke="#1b0c34" stroke-width="1.6"/>
<line x1="281.40000000000003" y1="466.3" x2="288.00000000000006" y2="466.3" stroke="#1b0c34" stroke-width="1.6"/>
<line x1="299.5" y1="428.1" x2="299.5" y2="441.5" stroke="#1b0c34" stroke-width="1.6"/>
<line x1="296.2" y1="428.1" x2="302.8" y2="428.1" stroke="#1b0c34" stroke-width="1.6"/>
<line x1="296.2" y1="441.5" x2="302.8" y2="441.5" stroke="#1b0c34" stroke-width="1.6"/>
<line x1="321.75" y1="493.3" x2="321.75" y2="515.4" stroke="#1b0c34" stroke-width="1.6"/>
<line x1="318.45" y1="493.3" x2="325.05" y2="493.3" stroke="#1b0c34" stroke-width="1.6"/>
<line x1="318.45" y1="515.4" x2="325.05" y2="515.4" stroke="#1b0c34" stroke-width="1.6"/>
<line x1="336.55" y1="464.4" x2="336.55" y2="483.3" stroke="#1b0c34" stroke-width="1.6"/>
<line x1="333.25" y1="464.4" x2="339.85" y2="464.4" stroke="#1b0c34" stroke-width="1.6"/>
<line x1="333.25" y1="483.3" x2="339.85" y2="483.3" stroke="#1b0c34" stroke-width="1.6"/>
<rect x="214.0" y="425.0" width="134.5" height="90.89999999999998" fill="none" stroke="#000" stroke-width="1.8"/>
<line x1="205.0" y1="508.91999999999996" x2="214.0" y2="508.91999999999996" stroke="#000" stroke-width="1.7"/>
<text transform="translate(202.8 512.52)" font-size="10" text-anchor="end" font-weight="normal" stroke="#000" stroke-width="0.55">&#8722;8</text>
<line x1="205.0" y1="495.99" x2="214.0" y2="495.99" stroke="#000" stroke-width="1.7"/>
<text transform="translate(202.8 499.59000000000003)" font-size="10" text-anchor="end" font-weight="normal" stroke="#000" stroke-width="0.55">&#8722;6</text>
<line x1="205.0" y1="483.06" x2="214.0" y2="483.06" stroke="#000" stroke-width="1.7"/>
<text transform="translate(202.8 486.66)" font-size="10" text-anchor="end" font-weight="normal" stroke="#000" stroke-width="0.55">&#8722;4</text>
<line x1="205.0" y1="470.13" x2="214.0" y2="470.13" stroke="#000" stroke-width="1.7"/>
<text transform="translate(202.8 473.73)" font-size="10" text-anchor="end" font-weight="normal" stroke="#000" stroke-width="0.55">&#8722;2</text>
<line x1="205.0" y1="457.2" x2="214.0" y2="457.2" stroke="#000" stroke-width="1.7"/>
<text transform="translate(202.8 460.8)" font-size="10" text-anchor="end" font-weight="normal" stroke="#000" stroke-width="0.55">0</text>
<line x1="205.0" y1="444.27" x2="214.0" y2="444.27" stroke="#000" stroke-width="1.7"/>
<text transform="translate(202.8 447.87)" font-size="10" text-anchor="end" font-weight="normal" stroke="#000" stroke-width="0.55">2</text>
<line x1="205.0" y1="431.34" x2="214.0" y2="431.34" stroke="#000" stroke-width="1.7"/>
<text transform="translate(202.8 434.94)" font-size="10" text-anchor="end" font-weight="normal" stroke="#000" stroke-width="0.55">4</text>
<line x1="226.15" y1="515.9" x2="226.15" y2="525.5" stroke="#000" stroke-width="1.7"/>
<text transform="translate(229.15 528.5) rotate(-90) scale(0.965 1.0)" font-size="10" text-anchor="end" font-weight="normal" stroke="#000" stroke-width="0.45">CMP1</text>
<line x1="248.4" y1="515.9" x2="248.4" y2="525.5" stroke="#000" stroke-width="1.7"/>
<text transform="translate(251.4 528.5) rotate(-90) scale(0.965 1.0)" font-size="10" text-anchor="end" font-weight="normal" stroke="#000" stroke-width="0.45">GMP1</text>
<line x1="263.20000000000005" y1="515.9" x2="263.20000000000005" y2="525.5" stroke="#000" stroke-width="1.7"/>
<text transform="translate(266.20000000000005 528.5) rotate(-90) scale(0.965 1.0)" font-size="10" text-anchor="end" font-weight="normal" stroke="#000" stroke-width="0.45">GMP2</text>
<line x1="284.70000000000005" y1="515.9" x2="284.70000000000005" y2="525.5" stroke="#000" stroke-width="1.7"/>
<text transform="translate(287.70000000000005 528.5) rotate(-90) scale(0.965 1.0)" font-size="10" text-anchor="end" font-weight="normal" stroke="#000" stroke-width="0.45">PMC1</text>
<line x1="299.5" y1="515.9" x2="299.5" y2="525.5" stroke="#000" stroke-width="1.7"/>
<text transform="translate(302.5 528.5) rotate(-90) scale(0.965 1.0)" font-size="10" text-anchor="end" font-weight="normal" stroke="#000" stroke-width="0.45">PMC2</text>
<line x1="321.75" y1="515.9" x2="321.75" y2="525.5" stroke="#000" stroke-width="1.7"/>
<text transform="translate(324.75 528.5) rotate(-90) scale(0.965 1.0)" font-size="10" text-anchor="end" font-weight="normal" stroke="#000" stroke-width="0.45">PMN1</text>
<line x1="336.55" y1="515.9" x2="336.55" y2="525.5" stroke="#000" stroke-width="1.7"/>
<text transform="translate(339.55 528.5) rotate(-90) scale(0.965 1.0)" font-size="10" text-anchor="end" font-weight="normal" stroke="#000" stroke-width="0.45">PMN2</text>
<text transform="translate(449.6 419.8)" font-size="14" text-anchor="middle" font-weight="normal" stroke="#000" stroke-width="0.4">GFI1</text>
<rect x="388.6" y="464.00" width="15.10" height="8.50" fill="#8867b4" stroke="#1b0c34" stroke-width="1.6"/>
<rect x="410.2" y="454.50" width="15.00" height="9.50" fill="#8867b4" stroke="#1b0c34" stroke-width="1.6"/>
<rect x="425.2" y="436.70" width="14.60" height="27.30" fill="#60448f" stroke="#1b0c34" stroke-width="1.6"/>
<rect x="447.3" y="451.00" width="14.80" height="13.00" fill="#8867b4" stroke="#1b0c34" stroke-width="1.6"/>
<rect x="462.1" y="445.60" width="14.80" height="18.40" fill="#60448f" stroke="#1b0c34" stroke-width="1.6"/>
<rect x="484.5" y="464.00" width="14.50" height="36.20" fill="#8867b4" stroke="#1b0c34" stroke-width="1.6"/>
<rect x="499.0" y="464.00" width="14.80" height="25.50" fill="#60448f" stroke="#1b0c34" stroke-width="1.6"/>
<line x1="396.15" y1="454.5" x2="396.15" y2="490.0" stroke="#1b0c34" stroke-width="1.6"/>
<line x1="392.84999999999997" y1="454.5" x2="399.45" y2="454.5" stroke="#1b0c34" stroke-width="1.6"/>
<line x1="392.84999999999997" y1="490.0" x2="399.45" y2="490.0" stroke="#1b0c34" stroke-width="1.6"/>
<line x1="417.7" y1="442.9" x2="417.7" y2="466.3" stroke="#1b0c34" stroke-width="1.6"/>
<line x1="414.4" y1="442.9" x2="421.0" y2="442.9" stroke="#1b0c34" stroke-width="1.6"/>
<line x1="414.4" y1="466.3" x2="421.0" y2="466.3" stroke="#1b0c34" stroke-width="1.6"/>
<line x1="432.5" y1="426.7" x2="432.5" y2="446.9" stroke="#1b0c34" stroke-width="1.6"/>
<line x1="429.2" y1="426.7" x2="435.8" y2="426.7" stroke="#1b0c34" stroke-width="1.6"/>
<line x1="429.2" y1="446.9" x2="435.8" y2="446.9" stroke="#1b0c34" stroke-width="1.6"/>
<line x1="454.70000000000005" y1="439.4" x2="454.70000000000005" y2="461.7" stroke="#1b0c34" stroke-width="1.6"/>
<line x1="451.40000000000003" y1="439.4" x2="458.00000000000006" y2="439.4" stroke="#1b0c34" stroke-width="1.6"/>
<line x1="451.40000000000003" y1="461.7" x2="458.00000000000006" y2="461.7" stroke="#1b0c34" stroke-width="1.6"/>
<line x1="469.5" y1="435.6" x2="469.5" y2="455.0" stroke="#1b0c34" stroke-width="1.6"/>
<line x1="466.2" y1="435.6" x2="472.8" y2="435.6" stroke="#1b0c34" stroke-width="1.6"/>
<line x1="466.2" y1="455.0" x2="472.8" y2="455.0" stroke="#1b0c34" stroke-width="1.6"/>
<line x1="491.75" y1="483.3" x2="491.75" y2="516.9" stroke="#1b0c34" stroke-width="1.6"/>
<line x1="488.45" y1="483.3" x2="495.05" y2="483.3" stroke="#1b0c34" stroke-width="1.6"/>
<line x1="488.45" y1="516.9" x2="495.05" y2="516.9" stroke="#1b0c34" stroke-width="1.6"/>
<line x1="506.4" y1="475.2" x2="506.4" y2="503.5" stroke="#1b0c34" stroke-width="1.6"/>
<line x1="503.09999999999997" y1="475.2" x2="509.7" y2="475.2" stroke="#1b0c34" stroke-width="1.6"/>
<line x1="503.09999999999997" y1="503.5" x2="509.7" y2="503.5" stroke="#1b0c34" stroke-width="1.6"/>
<rect x="383.7" y="426.0" width="134.50000000000006" height="91.5" fill="none" stroke="#000" stroke-width="1.8"/>
<line x1="374.7" y1="509.75" x2="383.7" y2="509.75" stroke="#000" stroke-width="1.7"/>
<text transform="translate(372.5 513.35)" font-size="10" text-anchor="end" font-weight="normal" stroke="#000" stroke-width="0.55">&#8722;0.3</text>
<line x1="374.7" y1="494.5" x2="383.7" y2="494.5" stroke="#000" stroke-width="1.7"/>
<text transform="translate(372.5 498.1)" font-size="10" text-anchor="end" font-weight="normal" stroke="#000" stroke-width="0.55">&#8722;0.2</text>
<line x1="374.7" y1="479.25" x2="383.7" y2="479.25" stroke="#000" stroke-width="1.7"/>
<text transform="translate(372.5 482.85)" font-size="10" text-anchor="end" font-weight="normal" stroke="#000" stroke-width="0.55">&#8722;0.1</text>
<line x1="374.7" y1="464.0" x2="383.7" y2="464.0" stroke="#000" stroke-width="1.7"/>
<text transform="translate(372.5 467.6)" font-size="10" text-anchor="end" font-weight="normal" stroke="#000" stroke-width="0.55">0.0</text>
<line x1="374.7" y1="448.75" x2="383.7" y2="448.75" stroke="#000" stroke-width="1.7"/>
<text transform="translate(372.5 452.35)" font-size="10" text-anchor="end" font-weight="normal" stroke="#000" stroke-width="0.55">0.1</text>
<line x1="374.7" y1="433.5" x2="383.7" y2="433.5" stroke="#000" stroke-width="1.7"/>
<text transform="translate(372.5 437.1)" font-size="10" text-anchor="end" font-weight="normal" stroke="#000" stroke-width="0.55">0.2</text>
<line x1="396.15" y1="517.5" x2="396.15" y2="527.1" stroke="#000" stroke-width="1.7"/>
<text transform="translate(399.15 530.1) rotate(-90) scale(0.965 1.0)" font-size="10" text-anchor="end" font-weight="normal" stroke="#000" stroke-width="0.45">CMP1</text>
<line x1="417.7" y1="517.5" x2="417.7" y2="527.1" stroke="#000" stroke-width="1.7"/>
<text transform="translate(420.7 530.1) rotate(-90) scale(0.965 1.0)" font-size="10" text-anchor="end" font-weight="normal" stroke="#000" stroke-width="0.45">GMP1</text>
<line x1="432.5" y1="517.5" x2="432.5" y2="527.1" stroke="#000" stroke-width="1.7"/>
<text transform="translate(435.5 530.1) rotate(-90) scale(0.965 1.0)" font-size="10" text-anchor="end" font-weight="normal" stroke="#000" stroke-width="0.45">GMP2</text>
<line x1="454.70000000000005" y1="517.5" x2="454.70000000000005" y2="527.1" stroke="#000" stroke-width="1.7"/>
<text transform="translate(457.70000000000005 530.1) rotate(-90) scale(0.965 1.0)" font-size="10" text-anchor="end" font-weight="normal" stroke="#000" stroke-width="0.45">PMC1</text>
<line x1="469.5" y1="517.5" x2="469.5" y2="527.1" stroke="#000" stroke-width="1.7"/>
<text transform="translate(472.5 530.1) rotate(-90) scale(0.965 1.0)" font-size="10" text-anchor="end" font-weight="normal" stroke="#000" stroke-width="0.45">PMC2</text>
<line x1="491.75" y1="517.5" x2="491.75" y2="527.1" stroke="#000" stroke-width="1.7"/>
<text transform="translate(494.75 530.1) rotate(-90) scale(0.965 1.0)" font-size="10" text-anchor="end" font-weight="normal" stroke="#000" stroke-width="0.45">PMN1</text>
<line x1="506.4" y1="517.5" x2="506.4" y2="527.1" stroke="#000" stroke-width="1.7"/>
<text transform="translate(509.4 530.1) rotate(-90) scale(0.965 1.0)" font-size="10" text-anchor="end" font-weight="normal" stroke="#000" stroke-width="0.45">PMN2</text>
</svg>
</body></html>
